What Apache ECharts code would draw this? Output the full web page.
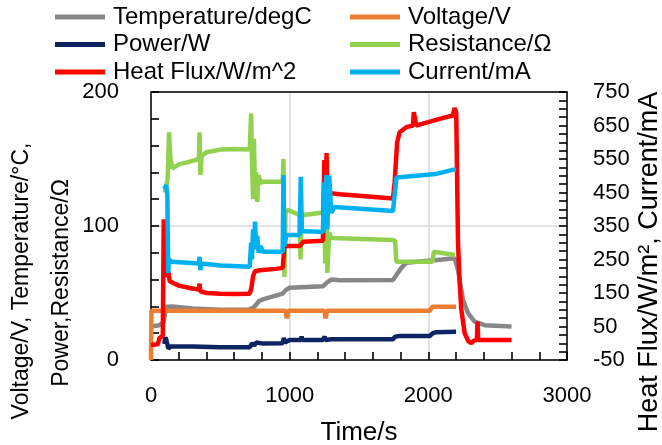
<!DOCTYPE html>
<html>
<head>
<meta charset="utf-8">
<script src="https://cdn.jsdelivr.net/npm/echarts@6/dist/echarts.min.js"></script>
<style>
  html, body { margin: 0; padding: 0; background: #fff; }
  #chart { width: 662px; height: 445px; }
</style>
</head>
<body>
<div id="chart"></div>
<script>
// Time axis ticks
const xTicks = [0, 1000, 2000, 3000];

// Temperature (degC), left axis
const tempT = [0, 60, 90, 110, 150, 300, 500, 700, 740, 780, 800, 950, 970, 1000, 1240, 1270, 1300, 1360, 1745, 1760, 1800, 1840, 2000, 2100, 2190, 2214, 2250, 2286, 2334, 2406, 2600];
const tempV = [25, 26, 28, 39.5, 40, 38.5, 37.5, 37.5, 39, 44, 45, 49.5, 52, 54, 55, 58, 60, 59.5, 59.7, 62, 68, 72.6, 74, 75, 76, 67, 45, 35, 28.6, 26, 25];

// Voltage (V), left axis
const voltT = [0, 3, 970, 980, 990, 1250, 1260, 1270, 2010, 2030, 2200];
const voltV = [0, 36.8, 36.8, 31, 36.8, 36.8, 31, 36.8, 36.8, 39.8, 39.8];

// Power (W), left axis
const powT = [95, 105, 115, 125, 140, 300, 500, 712, 730, 745, 760, 800, 950, 958, 966, 976, 1000, 1080, 1086, 1092, 1240, 1252, 1258, 1300, 1745, 1760, 1793, 2009, 2033, 2057, 2200];
const powV = [12, 17, 13, 8.5, 10, 10, 9.5, 9.5, 12.5, 11, 13, 12.4, 12.5, 16.5, 13, 14, 14.9, 14.9, 17.5, 15, 15, 17.5, 15, 15.5, 15.5, 17.4, 18, 18, 20, 20.8, 21];

// Resistance (Ohm), left axis
const resT = [100, 120, 130, 140, 155, 200, 280, 345, 350, 356, 365, 400, 500, 600, 712, 722, 728, 736, 742, 750, 758, 766, 775, 790, 808, 950, 955, 962, 970, 990, 1072, 1078, 1086, 1240, 1248, 1256, 1264, 1272, 1285, 1300, 1745, 1760, 1769, 2030, 2040, 2192];
const resV = [125, 135, 170, 150, 143, 146, 148, 150, 170, 138, 152, 155, 157, 157.5, 157, 184, 150, 120, 165, 125, 140, 118, 138, 132, 133, 133, 150, 62, 110, 112, 108, 75, 108, 110, 130, 72, 118, 65, 95, 91, 89.5, 89, 73.4, 73.4, 80.8, 78.4];

// Heat flux (W/m^2), right axis
const hfT = [0, 50, 60, 85, 92, 98, 125, 135, 200, 280, 345, 350, 356, 400, 500, 600, 712, 724, 736, 750, 784, 900, 950, 962, 976, 1000, 1072, 1100, 1240, 1250, 1258, 1266, 1274, 1285, 1300, 1360, 1500, 1745, 1757, 1775, 1793, 1841, 1889, 1895, 1913, 2000, 2100, 2177, 2189, 2201, 2214, 2226, 2238, 2262, 2290, 2310, 2330, 2350, 2355, 2360, 2400, 2600];
const hfV = [-5, -3, 15, 22, 370, 200, 215, 185, 172, 165, 160, 178, 155, 150, 148, 147, 148, 165, 200, 215, 218, 222, 225, 290, 295, 290, 290, 303, 306, 547, 380, 568, 400, 455, 448, 445, 440, 432, 480, 600, 630, 645, 650, 690, 650, 660, 672, 680, 702, 690, 300, 180, 100, 30, 5, 1, 8, 10, 65, 10, 10, 10];

// Current (mA), right axis
const curT = [95, 110, 118, 124, 130, 150, 345, 350, 356, 362, 500, 712, 722, 728, 736, 744, 750, 758, 766, 776, 790, 808, 950, 955, 962, 976, 1072, 1080, 1088, 1240, 1248, 1256, 1264, 1272, 1285, 1300, 1325, 1745, 1757, 1770, 2050, 2190, 2200];
const curV = [460, 472, 440, 210, 250, 243, 238, 258, 218, 238, 232, 228, 300, 250, 340, 280, 363, 290, 320, 270, 290, 273, 273, 502, 290, 323, 323, 497, 335, 332, 480, 360, 502, 340, 500, 389, 407, 395, 400, 495, 505, 519, 519];

const FONT = '"Liberation Sans", Arial, sans-serif';
const pairs = (ts, vs) => ts.map((t, i) => [t, vs[i]]);

function line(name, color, ts, vs, yAxisIndex) {
  return {
    name, type: 'line', yAxisIndex,
    data: pairs(ts, vs),
    showSymbol: false, symbol: 'none',
    lineStyle: { color, width: 4.5 },
    itemStyle: { color },
    animation: false
  };
}

const chart = echarts.init(document.getElementById('chart'), null, { renderer: 'canvas' });

// fresh style objects for every axis
const legendText = () => ({ fontFamily: FONT, fontSize: 24, color: '#000', lineHeight: 24, padding: [0, 0, 0, 3] });
const frame = () => ({ show: true, onZero: false, lineStyle: { color: '#000', width: 1.5 } });
const label = (margin) => ({ show: true, fontFamily: FONT, fontSize: 22, color: '#000', margin, formatter: v => String(v) });
const majorTick = () => ({ show: true, inside: true, length: 8, lineStyle: { color: '#000', width: 1.6 } });
const minorTick = (n) => ({ show: true, splitNumber: n, length: 8, lineStyle: { color: '#000', width: 1.6 } });
const grid = () => ({ show: true, lineStyle: { color: '#d9d9d9', width: 1.5 } });

chart.setOption({
  animation: false,
  backgroundColor: '#fff',
  grid: { left: 151, right: 95, top: 92, bottom: 85, outerBoundsMode: 'none', containLabel: false },
  legend: [
    {
      left: 55, top: 5, padding: 0, orient: 'vertical', itemGap: 3.5,
      itemWidth: 50, itemHeight: 5, icon: 'rect',
      data: ['Temperature/degC', 'Power/W', 'Heat Flux/W/m^2'],
      textStyle: legendText()
    },
    {
      left: 350, top: 5, padding: 0, orient: 'vertical', itemGap: 3.5,
      itemWidth: 50, itemHeight: 5, icon: 'rect',
      data: ['Voltage/V', 'Resistance/Ω', 'Current/mA'],
      textStyle: legendText()
    }
  ],
  xAxis: [
    {
      type: 'value', position: 'bottom', min: xTicks[0], max: xTicks[xTicks.length - 1], interval: 1000,
      name: 'Time/s', nameLocation: 'middle', nameGap: 60,
      nameTextStyle: { fontFamily: FONT, fontSize: 26, color: '#000' },
      axisLine: frame(),
      axisTick: majorTick(),
      minorTick: minorTick(5),
      axisLabel: label(25),
      splitLine: grid()
    },
    {
      // top edge of the plot frame
      type: 'value', position: 'top', min: xTicks[0], max: xTicks[xTicks.length - 1], interval: 1000,
      axisLine: frame(), axisTick: { show: false }, minorTick: { show: false },
      axisLabel: { show: false }, splitLine: { show: false }
    }
  ],
  yAxis: [
    {
      type: 'value', min: 0, max: 200, interval: 100, position: 'left',
      axisLine: frame(),
      axisTick: majorTick(),
      minorTick: minorTick(5),
      axisLabel: label(32),
      splitLine: grid()
    },
    {
      type: 'value', min: -50, max: 750, interval: 100, position: 'right',
      axisLine: frame(),
      axisTick: majorTick(),
      minorTick: minorTick(4),
      axisLabel: label(26),
      splitLine: { show: false }
    }
  ],
  graphic: [
    {
      type: 'text', x: 22, y: 281, rotation: Math.PI / 2,
      style: { text: 'Voltage/V, Temperature/°C,', font: '23px ' + FONT, fill: '#000', textAlign: 'center', textVerticalAlign: 'middle' }
    },
    {
      type: 'text', x: 62, y: 283, rotation: Math.PI / 2,
      style: { text: 'Power,Resistance/Ω', font: '23px ' + FONT, fill: '#000', textAlign: 'center', textVerticalAlign: 'middle' }
    },
    {
      type: 'text', x: 650, y: 262, rotation: Math.PI / 2,
      style: { text: 'Heat Flux/W/m², Current/mA', font: '27px ' + FONT, fill: '#000', textAlign: 'center', textVerticalAlign: 'middle' }
    }
  ],
  series: [
    line('Temperature/degC', '#878787', tempT, tempV, 0),
    line('Voltage/V', '#ED7D31', voltT, voltV, 0),
    line('Power/W', '#0C2461', powT, powV, 0),
    line('Resistance/Ω', '#92D050', resT, resV, 0),
    line('Heat Flux/W/m^2', '#FF0000', hfT, hfV, 1),
    line('Current/mA', '#00B0F0', curT, curV, 1)
  ]
});
</script>
</body>
</html>
